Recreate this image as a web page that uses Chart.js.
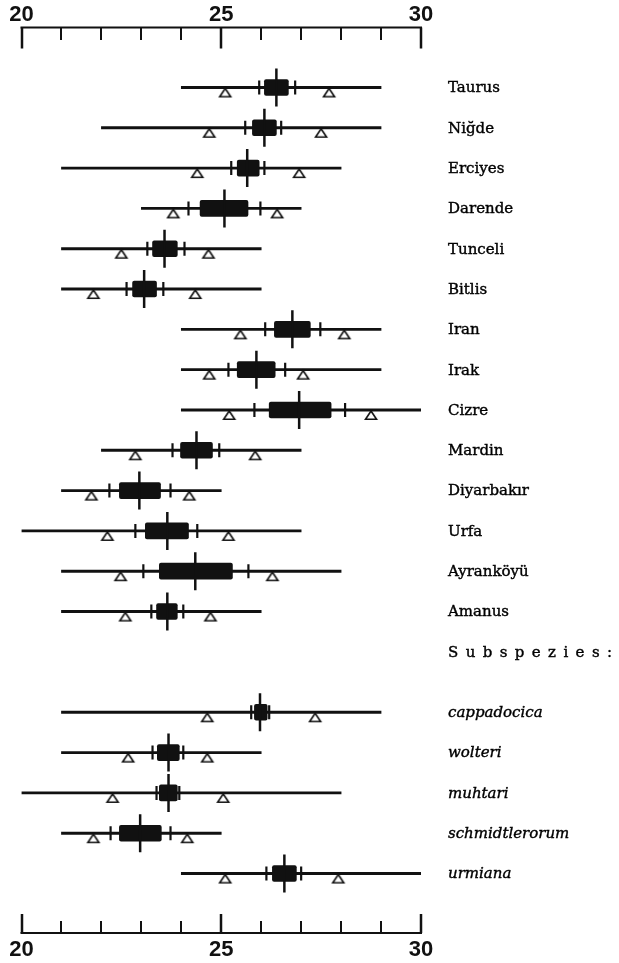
<!DOCTYPE html>
<html>
<head>
<meta charset="utf-8">
<script src="https://cdn.jsdelivr.net/npm/chart.js@4/dist/chart.umd.min.js"></script>
<style>
  html, body { margin: 0; padding: 0; background: #fff; }
  canvas { display: block; }
</style>
</head>
<body>
<canvas id="chart" width="619" height="963"></canvas>
<script>
// Populations and subspecies, top to bottom
const populations = ['Taurus', 'Niğde', 'Erciyes', 'Darende', 'Tunceli', 'Bitlis', 'Iran', 'Irak',
  'Cizre', 'Mardin', 'Diyarbakır', 'Urfa', 'Ayranköyü', 'Amanus'];
const subspecies = ['cappadocica', 'wolteri', 'muhtari', 'schmidtlerorum', 'urmiana'];
const subspeciesHeader = 'Subspezies:';

// Row slots on the vertical scale (header sits at 14, subspecies after a gap)
const populationRows = [0, 1, 2, 3, 4, 5, 6, 7, 8, 9, 10, 11, 12, 13];
const headerRow = 14;
const subspeciesRows = [15.5, 16.5, 17.5, 18.5, 19.5];

// Values per row: populations first, then subspecies
const rangeMin = [24, 22, 21, 23, 21, 21, 24, 24, 24, 22, 21, 20, 21, 21, 21, 21, 20, 21, 24];
const rangeMax = [29, 29, 28, 27, 26, 26, 29, 29, 30, 27, 25, 27, 28, 26, 29, 26, 28, 25, 30];
const means = [26.38, 26.08, 25.65, 25.08, 23.58, 23.07, 26.78, 25.88, 26.95, 24.38, 22.95, 23.65, 24.35, 23.65,
  25.97, 23.68, 23.68, 22.97, 26.58];
const boxLow = [26.08, 25.78, 25.4, 24.47, 23.28, 22.78, 26.33, 25.4, 26.2, 23.98, 22.45, 23.1, 23.45, 23.38,
  25.83, 23.4, 23.45, 22.45, 26.28];
const boxHigh = [26.68, 26.38, 25.95, 25.67, 23.9, 23.38, 27.23, 26.35, 27.75, 24.78, 23.48, 24.18, 25.28, 23.9,
  26.15, 23.95, 23.9, 23.5, 26.88];
const ciLow = [25.95, 25.6, 25.25, 24.18, 23.15, 22.63, 26.1, 25.18, 25.83, 23.78, 22.2, 22.85, 23.05, 23.25,
  25.75, 23.28, 23.38, 22.23, 26.13];
const ciHigh = [26.85, 26.5, 26.08, 25.98, 24.08, 23.55, 27.48, 26.6, 28.1, 24.95, 23.73, 24.4, 25.68, 24.05,
  26.2, 24.05, 23.95, 23.73, 27.0];
const sdLow = [25.1, 24.7, 24.4, 23.8, 22.5, 21.8, 25.48, 24.7, 25.2, 22.85, 21.75, 22.15, 22.48, 22.6,
  24.65, 22.67, 22.28, 21.8, 25.1];
const sdHigh = [27.7, 27.5, 26.95, 26.4, 24.68, 24.35, 28.08, 27.05, 28.75, 25.85, 24.2, 25.18, 26.28, 24.73,
  27.35, 24.65, 25.05, 24.15, 27.93];

// Axis ticks
const axisTicks = [20, 21, 22, 23, 24, 25, 26, 27, 28, 29, 30];
const axisLabels = [20, 25, 30];

const rowPos = populationRows.concat(subspeciesRows);

// Open triangle hanging below the row line
function makeTriangle() {
  const c = document.createElement('canvas');
  c.width = 16; c.height = 24;
  const g = c.getContext('2d');
  g.fillStyle = '#fff';
  g.strokeStyle = '#111';
  g.lineWidth = 1.6;
  g.lineJoin = 'miter';
  g.beginPath();
  g.moveTo(8, 13);
  g.lineTo(2.5, 21.2);
  g.lineTo(13.5, 21.2);
  g.closePath();
  g.fill();
  g.stroke();
  return c;
}
const triangle = makeTriangle();

const pts = (vals) => vals.map((v, i) => ({ x: v, y: rowPos[i] }));

// Slightly heavier text: fill plus a hairline stroke
function label(ctx, text, x, y) {
  ctx.fillText(text, x, y);
  ctx.strokeText(text, x, y);
}

// Axes on top and bottom plus the row labels
const frame = {
  id: 'frame',
  afterDraw(chart) {
    const ctx = chart.ctx;
    const xs = chart.scales.x, ys = chart.scales.y;
    const a = chart.chartArea;
    const left = xs.getPixelForValue(axisTicks[0]);
    const right = xs.getPixelForValue(axisTicks[axisTicks.length - 1]);
    ctx.save();
    ctx.strokeStyle = '#111';
    ctx.fillStyle = '#111';
    ctx.lineWidth = 2;
    ctx.lineCap = 'butt';

    const topY = a.top + 0.5;
    const botY = a.bottom - 1;
    // axis lines
    ctx.beginPath();
    ctx.moveTo(left - 1, topY); ctx.lineTo(right + 1, topY);
    ctx.moveTo(left - 1, botY); ctx.lineTo(right + 1, botY);
    ctx.stroke();
    // ticks
    axisTicks.forEach(v => {
      const px = Math.round(xs.getPixelForValue(v));
      const major = axisLabels.includes(v);
      ctx.lineWidth = major ? 2.5 : 2;
      ctx.beginPath();
      ctx.moveTo(px, topY);
      ctx.lineTo(px, topY + (major ? 21 : 12.5));
      ctx.moveTo(px, botY);
      ctx.lineTo(px, botY - (major ? 19 : 12));
      ctx.stroke();
    });
    // tick labels
    ctx.font = 'bold 22px "Liberation Sans", Arial, sans-serif';
    ctx.textAlign = 'center';
    ctx.textBaseline = 'middle';
    axisLabels.forEach(v => {
      const px = xs.getPixelForValue(v);
      ctx.fillText(String(v), px, 15);
      ctx.fillText(String(v), px, 950);
    });

    // row labels
    const lx = 448;
    ctx.textAlign = 'left';
    ctx.textBaseline = 'middle';
    ctx.fillStyle = '#000';
    ctx.strokeStyle = '#000';
    ctx.lineWidth = 0.4;
    ctx.font = '15px "DejaVu Serif", serif';
    populations.forEach((name, i) => {
      label(ctx, name, lx, ys.getPixelForValue(populationRows[i]) + 1);
    });
    ctx.letterSpacing = '7.4px';
    label(ctx, subspeciesHeader, lx, ys.getPixelForValue(headerRow) + 1);
    ctx.letterSpacing = '0px';
    ctx.font = 'italic 15px "DejaVu Serif", serif';
    subspecies.forEach((name, i) => {
      label(ctx, name, lx, ys.getPixelForValue(subspeciesRows[i]) + 1);
    });
    ctx.restore();
  }
};

new Chart(document.getElementById('chart'), {
  type: 'bar',
  data: {
    datasets: [
      {
        type: 'scatter', label: 'Mittelwert', data: pts(means),
        pointStyle: 'line', pointRotation: 90, pointRadius: 19, pointHoverRadius: 19,
        pointBorderWidth: 2.5, pointBorderColor: '#111', showLine: false
      },
      {
        type: 'scatter', label: 'Vertrauensbereich',
        data: pts(ciLow).concat(pts(ciHigh)),
        pointStyle: 'line', pointRotation: 90, pointRadius: 7, pointHoverRadius: 7,
        pointBorderWidth: 2.2, pointBorderColor: '#111', showLine: false
      },
      {
        type: 'scatter', label: 'Standardabweichung',
        data: pts(sdLow).concat(pts(sdHigh)),
        pointStyle: triangle, pointRadius: 6, pointHoverRadius: 6, showLine: false
      },
      {
        label: 'Box', data: rowPos.map((p, i) => ({ x: [boxLow[i], boxHigh[i]], y: p })),
        backgroundColor: '#111', barThickness: 16, borderRadius: 2, borderSkipped: false,
        grouped: false
      },
      {
        label: 'Variationsbreite', data: rowPos.map((p, i) => ({ x: [rangeMin[i], rangeMax[i]], y: p })),
        backgroundColor: '#111', barThickness: 2.2, grouped: false
      }
    ]
  },
  options: {
    indexAxis: 'y',
    responsive: false,
    animation: false,
    devicePixelRatio: 1,
    layout: { padding: { left: 21, right: 198, top: 27, bottom: 29 } },
    scales: {
      x: { type: 'linear', min: 20, max: 30, display: false },
      y: { type: 'linear', min: -1.5, max: 21, reverse: true, offset: false, display: false }
    },
    plugins: { legend: { display: false }, tooltip: { enabled: false } }
  },
  plugins: [frame]
});
</script>
</body>
</html>
